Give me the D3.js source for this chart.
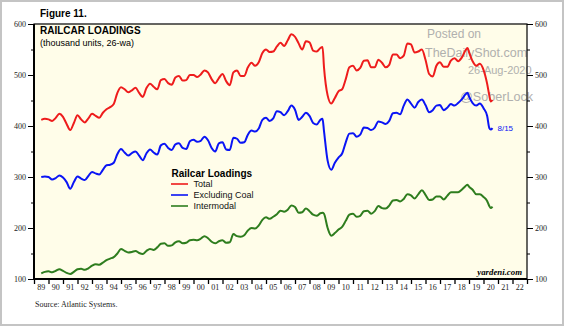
<!DOCTYPE html>
<html><head><meta charset="utf-8">
<script src="https://cdn.jsdelivr.net/npm/d3@7"></script>
<style>body{margin:0;background:#fff}svg{display:block}</style>
</head><body><svg id="c" width="564" height="326"></svg>
<script>
const dates = [1989.5,1989.75,1990,1990.25,1990.5,1990.75,1991,1991.25,1991.5,1991.75,1992,1992.25,1992.5,1992.75,1993,1993.25,1993.5,1993.75,1994,1994.25,1994.5,1994.75,1995,1995.25,1995.5,1995.75,1996,1996.25,1996.5,1996.75,1997,1997.25,1997.5,1997.75,1998,1998.25,1998.5,1998.75,1999,1999.25,1999.5,1999.75,2000,2000.25,2000.5,2000.75,2001,2001.25,2001.5,2001.75,2002,2002.25,2002.5,2002.75,2003,2003.25,2003.5,2003.75,2004,2004.25,2004.5,2004.75,2005,2005.25,2005.5,2005.75,2006,2006.25,2006.5,2006.75,2007,2007.25,2007.5,2007.75,2008,2008.25,2008.5,2008.75,2008.9,2009,2009.25,2009.5,2009.75,2010,2010.25,2010.5,2010.75,2011,2011.25,2011.5,2011.75,2012,2012.25,2012.5,2012.75,2013,2013.25,2013.5,2013.75,2014,2014.25,2014.5,2014.75,2015,2015.25,2015.5,2015.75,2016,2016.25,2016.5,2016.75,2017,2017.25,2017.5,2017.75,2018,2018.25,2018.5,2018.75,2018.9,2019,2019.25,2019.5,2019.75,2020,2020.25,2020.4,2020.5,2020.62];
const total = [412,414,413,410,416,424,418,404,392,406,421,413,407,415,424,420,416,426,433,437,443,465,476,472,466,470,475,465,457,474,483,477,472,490,492,484,481,495,498,489,490,500,500,496,501,509,505,492,484,494,502,488,480,505,509,498,498,515,524,518,525,543,550,545,546,556,563,557,568,580,575,562,550,566,564,548,546,553,555,515,460,444,455,468,472,492,515,518,509,514,528,529,515,515,530,524,515,520,540,540,533,538,562,560,544,546,550,530,502,497,518,525,516,516,528,533,527,534,548,553,545,527,518,522,510,483,460,448,451];
const exCoal = [300,301,300,295,298,303,299,290,277,290,301,297,294,302,310,307,305,314,323,324,328,345,355,348,342,347,350,342,333,346,354,348,344,362,365,357,353,364,366,357,355,370,373,369,371,379,372,357,350,366,368,354,353,377,375,367,368,383,391,389,395,412,416,410,415,429,427,421,429,440,432,412,418,426,420,406,403,412,414,390,332,314,328,338,346,368,385,386,379,383,397,396,392,397,409,407,404,410,425,426,423,440,452,444,436,447,452,441,427,431,440,441,431,436,443,440,445,452,462,465,458,445,440,444,435,420,396,393,396];
const intermodal = [111,114,115,113,116,119,116,112,110,114,119,120,118,121,126,129,128,132,137,140,143,150,159,155,152,153,155,151,149,155,159,157,162,169,170,165,166,172,174,170,171,176,177,176,179,184,180,173,170,174,176,171,172,188,184,183,186,195,200,199,205,216,221,218,222,227,234,232,236,244,241,230,231,238,233,226,224,229,230,228,200,185,190,197,202,214,226,228,222,224,233,234,228,233,243,239,238,244,254,255,252,257,266,264,258,266,274,265,255,256,262,262,256,263,270,270,270,275,282,285,281,275,266,266,261,253,243,239,242];
const yTicks = [100,200,300,400,500,600];
const yMinor = [150,250,350,450,550];
const years = d3.range(1989, 2023);
const yearLabels = years.map(y => String(y % 100).padStart(2, "0"));
const legendNames = ["Total","Excluding Coal","Intermodal"];
const colors = ["#ee1c1c","#0a14f5","#2e7d1e"];

const svg = d3.select("#c");
svg.append("rect").attr("x",1).attr("y",1).attr("width",562).attr("height",324)
  .attr("fill","#fff").attr("stroke","#c4c4c4").attr("stroke-width",2);

const L=34,R=527,T=24,B=279;
const x = d3.scaleLinear().domain([1989,2023]).range([L,R]);
const y = d3.scaleLinear().domain([100,600]).range([B,T]);

svg.append("rect").attr("x",L).attr("y",T).attr("width",R-L).attr("height",B-T).attr("fill","#fffde9");

// watermark
const wm = svg.append("g").attr("fill","#a8a8a8").attr("font-family","Liberation Sans, Arial, sans-serif").attr("opacity",0.9);
wm.append("text").attr("x",427).attr("y",38).attr("font-size",12).text("Posted on");
wm.append("text").attr("x",425).attr("y",57).attr("font-size",12.5).text("TheDailyShot.com");
wm.append("text").attr("x",468).attr("y",74).attr("font-size",11).text("26-Aug-2020");
wm.append("text").attr("x",460).attr("y",101).attr("font-size",12.6).text("@SoberLock");

const series = [total, exCoal, intermodal];
const line = d3.line().x((d,i)=>x(dates[i])).y(d=>y(d)).curve(d3.curveMonotoneX);
series.forEach((s,k)=>{
  svg.append("path").datum(s).attr("d",line).attr("fill","none")
    .attr("stroke",colors[k]).attr("stroke-width",2).attr("stroke-linejoin","round");
});

// frame
svg.append("rect").attr("x",L).attr("y",T).attr("width",R-L).attr("height",B-T)
  .attr("fill","none").attr("stroke","#000").attr("stroke-width",1.2);
svg.append("line").attr("x1",L).attr("x2",L).attr("y1",T).attr("y2",B).attr("stroke","#000").attr("stroke-width",2);
svg.append("line").attr("x1",L).attr("x2",R).attr("y1",B).attr("y2",B).attr("stroke","#000").attr("stroke-width",2);

const serif = "Liberation Serif, Times New Roman, serif";
function styleAxis(g){ g.attr("color","#000"); g.select(".domain").remove(); g.selectAll("text").attr("font-family",serif).attr("font-size",8).attr("fill","#222"); g.selectAll("line").attr("stroke","#000"); }
svg.append("g").attr("transform",`translate(${L},0)`).call(d3.axisLeft(y).tickValues(yTicks).tickSize(6).tickPadding(2)).call(styleAxis);
svg.append("g").attr("transform",`translate(${L},0)`).call(d3.axisLeft(y).tickValues(yMinor).tickSize(3).tickFormat("")).call(styleAxis);
svg.append("g").attr("transform",`translate(${R},0)`).call(d3.axisRight(y).tickValues(yTicks).tickSize(6).tickPadding(2)).call(styleAxis);
svg.append("g").attr("transform",`translate(${R},0)`).call(d3.axisRight(y).tickValues(yMinor).tickSize(3).tickFormat("")).call(styleAxis);

const xa = svg.append("g").attr("transform",`translate(0,${B})`).call(d3.axisBottom(x).tickValues(d3.range(1989,2024)).tickSize(5).tickFormat("")).call(styleAxis);
xa.selectAll("line").attr("stroke-width",1.3);
svg.append("g").selectAll("text").data(years).join("text")
  .attr("x",d=>x(d+0.5)).attr("y",290).attr("text-anchor","middle")
  .attr("font-family",serif).attr("font-size",8).attr("fill","#222")
  .text((d,i)=>yearLabels[i]);

const sans = "Liberation Sans, Arial, sans-serif";
svg.append("text").attr("x",40).attr("y",16.5).attr("font-family",sans).attr("font-weight","bold").attr("font-size",10).text("Figure 11.");
svg.append("text").attr("x",40).attr("y",34).attr("font-family",sans).attr("font-weight","bold").attr("font-size",10).text("RAILCAR LOADINGS");
svg.append("text").attr("x",40).attr("y",45.5).attr("font-family",sans).attr("font-size",9).text("(thousand units, 26-wa)");

const lg = svg.append("g");
lg.append("text").attr("x",171.5).attr("y",176.5).attr("font-family",sans).attr("font-weight","bold").attr("font-size",10).text("Railcar Loadings");
legendNames.forEach((n,i)=>{
  const yy = 184 + i*11;
  lg.append("line").attr("x1",171).attr("x2",188).attr("y1",yy).attr("y2",yy).attr("stroke",colors[i]).attr("stroke-width",1.6);
  lg.append("text").attr("x",193.5).attr("y",yy+3.2).attr("font-family",sans).attr("font-size",9).attr("fill","#111").text(n);
});

svg.append("text").attr("x",x(dates[dates.length-1])+5).attr("y",y(exCoal[exCoal.length-1])+3).attr("font-family",sans).attr("font-size",8).attr("fill",colors[1]).text("8/15");
svg.append("text").attr("x",522).attr("y",275).attr("text-anchor","end").attr("font-family",serif).attr("font-style","italic").attr("font-weight","bold").attr("font-size",8.8).text("yardeni.com");
svg.append("text").attr("x",35).attr("y",306.5).attr("font-family",serif).attr("font-size",8).attr("fill","#222").text("Source: Atlantic Systems.");
</script></body></html>
